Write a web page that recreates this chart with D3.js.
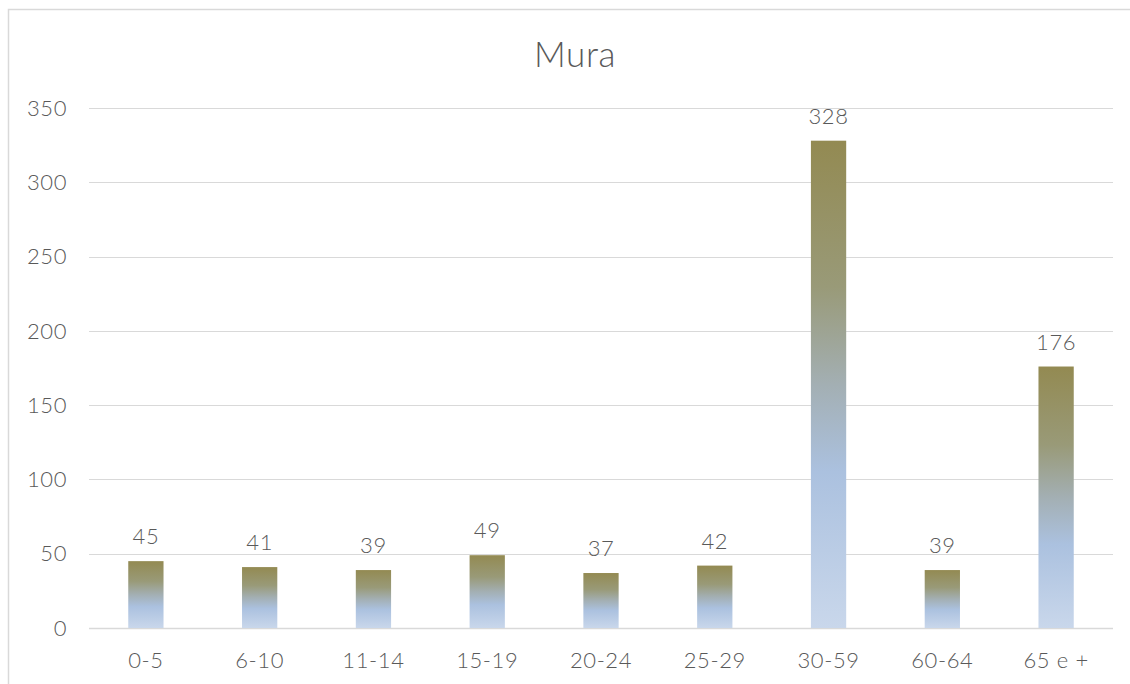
<!DOCTYPE html>
<html>
<head>
<meta charset="utf-8" />
<title>Mura</title>
<script src="https://cdn.jsdelivr.net/npm/d3@7"></script>
<style>
  body { margin: 0; background: #fff; }
  text { font-family: "Lato Light", "Lato Hairline", Lato, "Open Sans", sans-serif; font-weight: 300; fill: #595959; letter-spacing: 0.6px; }
</style>
</head>
<body>
<div id="chart"></div>
<script>
// data
var categories = ["0-5", "6-10", "11-14", "15-19", "20-24", "25-29", "30-59", "60-64", "65 e +"];
var values = [45, 41, 39, 49, 37, 42, 328, 39, 176];
var yTicks = [0, 50, 100, 150, 200, 250, 300, 350];
var title = "Mura";

var w = 1130;
var h = 684;
var margin = { left: 89, right: 17, top: 108, bottom: 56 };

var svg = d3.select("#chart")
    .append("svg")
    .attr("width", w)
    .attr("height", h);

// chart border
svg.append("rect")
    .attr("x", 8.5)
    .attr("y", 9.5)
    .attr("width", 1130)
    .attr("height", 700)
    .attr("fill", "none")
    .attr("stroke", "#d9d9d9")
    .attr("stroke-width", 1.5);

// gradient per bar
var grad = svg.append("defs").append("linearGradient")
    .attr("id", "barGrad")
    .attr("x1", 0).attr("y1", 0)
    .attr("x2", 0).attr("y2", 1);
grad.append("stop").attr("offset", "0%").attr("stop-color", "#938a52");
grad.append("stop").attr("offset", "30%").attr("stop-color", "#999a78");
grad.append("stop").attr("offset", "50%").attr("stop-color", "#a3afb3");
grad.append("stop").attr("offset", "68%").attr("stop-color", "#abc1df");
grad.append("stop").attr("offset", "100%").attr("stop-color", "#c9d7eb");

var x = d3.scaleBand()
    .domain(categories)
    .range([margin.left, w - margin.right])
    .paddingInner(0.69)
    .paddingOuter(0.345);

var y = d3.scaleLinear()
    .domain([0, 350])
    .range([h - margin.bottom, margin.top]);

// gridlines
svg.append("g")
    .selectAll("line")
    .data(yTicks)
    .enter()
    .append("line")
    .attr("x1", margin.left)
    .attr("x2", w - margin.right)
    .attr("y1", function (d) { return Math.round(y(d)) + 0.5; })
    .attr("y2", function (d) { return Math.round(y(d)) + 0.5; })
    .attr("stroke", "#d9d9d9")
    .attr("stroke-width", function (d) { return d === 0 ? 1.5 : 1.2; });

// y axis labels
svg.append("g")
    .selectAll("text")
    .data(yTicks)
    .enter()
    .append("text")
    .text(function (d) { return d; })
    .attr("x", 67)
    .attr("y", function (d) { return y(d); })
    .attr("dy", "0.35em")
    .attr("text-anchor", "end")
    .attr("font-size", "22px");

// bars
svg.append("g")
    .selectAll("rect")
    .data(values)
    .enter()
    .append("rect")
    .attr("x", function (d, i) { return x(categories[i]); })
    .attr("y", function (d) { return y(d); })
    .attr("width", x.bandwidth())
    .attr("height", function (d) { return y(0) - y(d); })
    .attr("fill", "url(#barGrad)");

// value labels
svg.append("g")
    .selectAll("text")
    .data(values)
    .enter()
    .append("text")
    .text(function (d) { return d; })
    .attr("x", function (d, i) { return x(categories[i]) + x.bandwidth() / 2; })
    .attr("y", function (d) { return y(d) - 17; })
    .attr("text-anchor", "middle")
    .attr("font-size", "22px");

// category labels
svg.append("g")
    .selectAll("text")
    .data(categories)
    .enter()
    .append("text")
    .text(function (d) { return d; })
    .attr("x", function (d) { return x(d) + x.bandwidth() / 2; })
    .attr("y", 668)
    .attr("text-anchor", "middle")
    .attr("font-size", "22px");

// title
svg.append("text")
    .text(title)
    .attr("x", 575)
    .attr("y", 67)
    .attr("text-anchor", "middle")
    .attr("font-size", "35px");
</script>
</body>
</html>
